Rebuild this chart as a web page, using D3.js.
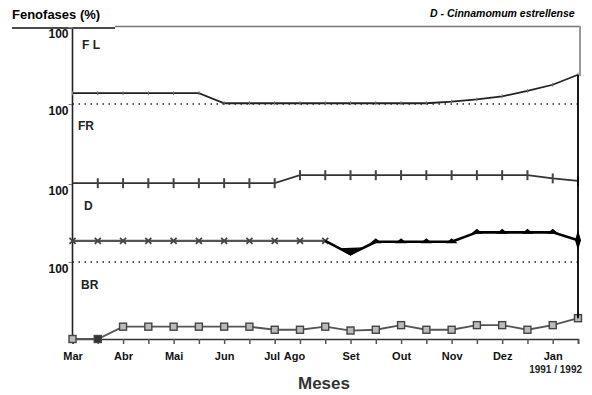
<!DOCTYPE html>
<html>
<head>
<meta charset="utf-8">
<script src="https://cdn.jsdelivr.net/npm/d3@7"></script>
<style>
  body { margin: 0; background: #fff; }
  svg { display: block; font-family: "Liberation Sans", Arial, sans-serif; }
</style>
</head>
<body>
<div id="chart"></div>
<script>
// sampling points (fortnightly), Mar 1991 -> Jan 1992
const samples = [0, 1, 2, 3, 4, 5, 6, 7, 8, 9, 10, 11, 12, 13, 14, 15, 16, 17, 18, 19, 20];
const monthNames = ["Mar", "Abr", "Mai", "Jun", "Jul", "Ago", "Set", "Out", "Nov", "Dez", "Jan"];
const monthAt = [0, 2, 4, 6, 8, 9, 11, 13, 15, 17, 19];

// phenophases (%)
const flValues = [14, 14, 14, 14, 14, 14, 1, 1, 1, 1, 1, 1, 1, 1, 1, 3, 6, 10, 17, 25, 38];
const frValues = [1, 1, 1, 1, 1, 1, 1, 1, 1, 11, 11, 11, 11, 11, 11, 11, 11, 11, 11, 7, 4];
const dEarly = [27, 27, 27, 27, 27, 27, 27, 27, 27, 27, 27];            // samples 0..10
const dLate = [27, 10, 26, 26, 26, 26, 38, 38, 38, 38, 28];             // samples 10..20
const brValues = [0, 0, 16, 16, 16, 16, 16, 16, 12, 12, 16, 11, 12, 18, 12, 12, 18, 18, 12, 18, 27];

const bandNames = ["F L", "FR", "D", "BR"];
const yTickLabels = ["100"];

const width = 592;
const height = 395;
const left = 72.5, right = 578;

const svg = d3.select('#chart').append('svg')
    .attr('width', width)
    .attr('height', height);

const x = d3.scaleLinear().domain([0, 20]).range([left, right]);

// four stacked bands, each 0..100 %
const bandEdges = [27, 104, 184, 262, 339];
const bandScales = bandNames.map((n, i) =>
    d3.scaleLinear().domain([0, 100]).range([bandEdges[i + 1], bandEdges[i]]));

// title + frame top
svg.append('text')
    .attr('x', 12).attr('y', 19)
    .style('font-size', '13px').style('font-weight', 'bold')
    .text('Fenofases (%)');
svg.append('line')
    .attr('x1', 12).attr('x2', 115).attr('y1', 28).attr('y2', 28)
    .attr('stroke', '#111').attr('stroke-width', 1.6);
svg.append('line')
    .attr('x1', 115).attr('x2', 580).attr('y1', 26.5).attr('y2', 26.5)
    .attr('stroke', '#777').attr('stroke-width', 1.6);
svg.append('line')
    .attr('x1', 580).attr('x2', 580).attr('y1', 26).attr('y2', 76)
    .attr('stroke', '#999').attr('stroke-width', 2);

svg.append('text')
    .attr('x', 430).attr('y', 17)
    .style('font-size', '10.5px').style('font-weight', 'bold').style('font-style', 'italic')
    .text('D - Cinnamomum estrellense');

// dotted baselines for FL and D
[0, 2].forEach((i) => {
    svg.append('line')
        .attr('x1', left).attr('x2', right)
        .attr('y1', bandScales[i](0)).attr('y2', bandScales[i](0))
        .attr('stroke', '#222').attr('stroke-width', 1.3)
        .attr('stroke-dasharray', '1.5,4.5');
});

// y axes: one "100" per band
bandScales.forEach((s, i) => {
    const g = svg.append('g')
        .attr('transform', `translate(${left},0)`)
        .call(d3.axisLeft(s).tickValues([100]).tickSize(4).tickFormat(() => yTickLabels[0]));
    g.select('.domain').remove();
    g.selectAll('text')
        .attr('dy', '0.85em').attr('x', -4)
        .style('font-size', '12px').style('font-weight', 'bold')
        .style('font-family', '"Liberation Sans", Arial, sans-serif')
        .attr('fill', '#111');
    g.selectAll('line').attr('stroke', '#888');
});
svg.append('line')
    .attr('x1', left).attr('x2', left).attr('y1', 29).attr('y2', 339)
    .attr('stroke', '#222').attr('stroke-width', 1.6);

// band labels
const labelPos = [[82, 49], [78, 130], [84, 210], [81, 289]];
bandNames.forEach((n, i) => {
    svg.append('text')
        .attr('x', labelPos[i][0]).attr('y', labelPos[i][1])
        .style('font-size', '12px').style('font-weight', 'bold')
        .attr('fill', '#222')
        .text(n);
});

// x axis
const xAxis = d3.axisBottom(x)
    .tickValues(samples)
    .tickSize(5)
    .tickPadding(8)
    .tickFormat((d) => {
        const k = monthAt.indexOf(d);
        return k >= 0 ? monthNames[k] : '';
    });
const gx = svg.append('g')
    .attr('transform', `translate(0,${bandEdges[4]})`)
    .call(xAxis);
gx.select('.domain').attr('stroke', '#333').attr('stroke-width', 1.6);
gx.selectAll('line').attr('stroke', '#555').attr('stroke-width', 1.5);
gx.selectAll('text')
    .style('font-size', '11px').style('font-weight', 'bold')
    .style('font-family', '"Liberation Sans", Arial, sans-serif')
    .attr('fill', '#111');
gx.selectAll('.tick text').filter((d) => d === 8).attr('dx', -3);
gx.selectAll('.tick text').filter((d) => d === 9).attr('dx', -6);

svg.append('text')
    .attr('x', 324).attr('y', 389)
    .attr('text-anchor', 'middle')
    .style('font-size', '17px').style('font-weight', 'bold')
    .attr('fill', '#333')
    .text('Meses');
svg.append('text')
    .attr('x', 582).attr('y', 373)
    .attr('text-anchor', 'end')
    .style('font-size', '10px').style('font-weight', 'bold')
    .attr('fill', '#222')
    .text('1991 / 1992');

// series
const lineFor = (s) => d3.line().x((d) => x(d.i)).y((d) => s(d.v));
const toPts = (vals, start) => vals.map((v, k) => ({ i: samples[start + k], v: v }));

// F L
const flPts = toPts(flValues, 0);
svg.append('path').datum(flPts)
    .attr('d', lineFor(bandScales[0]))
    .attr('fill', 'none').attr('stroke', '#222').attr('stroke-width', 1.8);
svg.selectAll('.fl-mark').data(flPts).enter().append('line')
    .attr('class', 'fl-mark')
    .attr('x1', (d) => x(d.i)).attr('x2', (d) => x(d.i))
    .attr('y1', (d) => bandScales[0](d.v) - 2).attr('y2', (d) => bandScales[0](d.v) + 2)
    .attr('stroke', '#777').attr('stroke-width', 1);

// FR
const frPts = toPts(frValues, 0);
svg.append('path').datum(frPts)
    .attr('d', lineFor(bandScales[1]))
    .attr('fill', 'none').attr('stroke', '#333').attr('stroke-width', 1.8);
svg.selectAll('.fr-mark').data(frPts.slice(1)).enter().append('line')
    .attr('class', 'fr-mark')
    .attr('x1', (d) => x(d.i)).attr('x2', (d) => x(d.i))
    .attr('y1', (d) => bandScales[1](d.v) - 5).attr('y2', (d) => bandScales[1](d.v) + 5)
    .attr('stroke', '#444').attr('stroke-width', 2);

// D (grey part with x markers)
const dEarlyPts = toPts(dEarly, 0);
svg.append('path').datum(dEarlyPts)
    .attr('d', lineFor(bandScales[2]))
    .attr('fill', 'none').attr('stroke', '#555').attr('stroke-width', 2.2);
svg.selectAll('.d-mark').data(dEarlyPts).enter().append('path')
    .attr('class', 'd-mark')
    .attr('transform', (d) => `translate(${x(d.i)},${bandScales[2](d.v)})`)
    .attr('d', 'M-3,-3L3,3M-3,3L3,-3')
    .attr('stroke', '#444').attr('stroke-width', 1.8);

// D (black part)
const dLatePts = toPts(dLate, 10);
svg.append('path').datum(dLatePts)
    .attr('d', lineFor(bandScales[2]))
    .attr('fill', 'none').attr('stroke', '#000').attr('stroke-width', 2.6)
    .attr('stroke-linejoin', 'round');
svg.selectAll('.d-tri').data(dLatePts.slice(2, 10)).enter().append('path')
    .attr('class', 'd-tri')
    .attr('transform', (d) => `translate(${x(d.i)},${bandScales[2](d.v)})`)
    .attr('d', 'M-6,1.5L0,-3.5L6,1.5Z')
    .attr('fill', '#000');
svg.selectAll('.d-low').data(dLatePts.slice(1, 2)).enter().append('path')
    .attr('class', 'd-low')
    .attr('transform', (d) => `translate(${x(d.i)},${bandScales[2](d.v)})`)
    .attr('d', 'M-12,-6L0,1.5L14,-7Z')
    .attr('fill', '#000');

// BR
const brPts = toPts(brValues, 0);
svg.append('path').datum(brPts)
    .attr('d', lineFor(bandScales[3]))
    .attr('fill', 'none').attr('stroke', '#555').attr('stroke-width', 1.8);
svg.selectAll('.br-mark').data(brPts).enter().append('rect')
    .attr('class', 'br-mark')
    .attr('x', (d) => x(d.i) - 3.5).attr('y', (d) => bandScales[3](d.v) - 3.5)
    .attr('width', 7).attr('height', 7)
    .attr('fill', (d, k) => k === 1 ? '#333' : '#bbb')
    .attr('stroke', '#444').attr('stroke-width', 1.4);

// closing vertical at the last sample
const last = samples[samples.length - 1];
svg.append('line')
    .attr('x1', x(last)).attr('x2', x(last))
    .attr('y1', bandScales[0](flValues[20])).attr('y2', bandScales[3](brValues[20]))
    .attr('stroke', '#000').attr('stroke-width', 1.8);
svg.append('path')
    .attr('transform', `translate(${x(last)},${bandScales[2](dLate[10])})`)
    .attr('d', 'M0,-10L3,0L0,10L-3,0Z')
    .attr('fill', '#000');
</script>
</body>
</html>
